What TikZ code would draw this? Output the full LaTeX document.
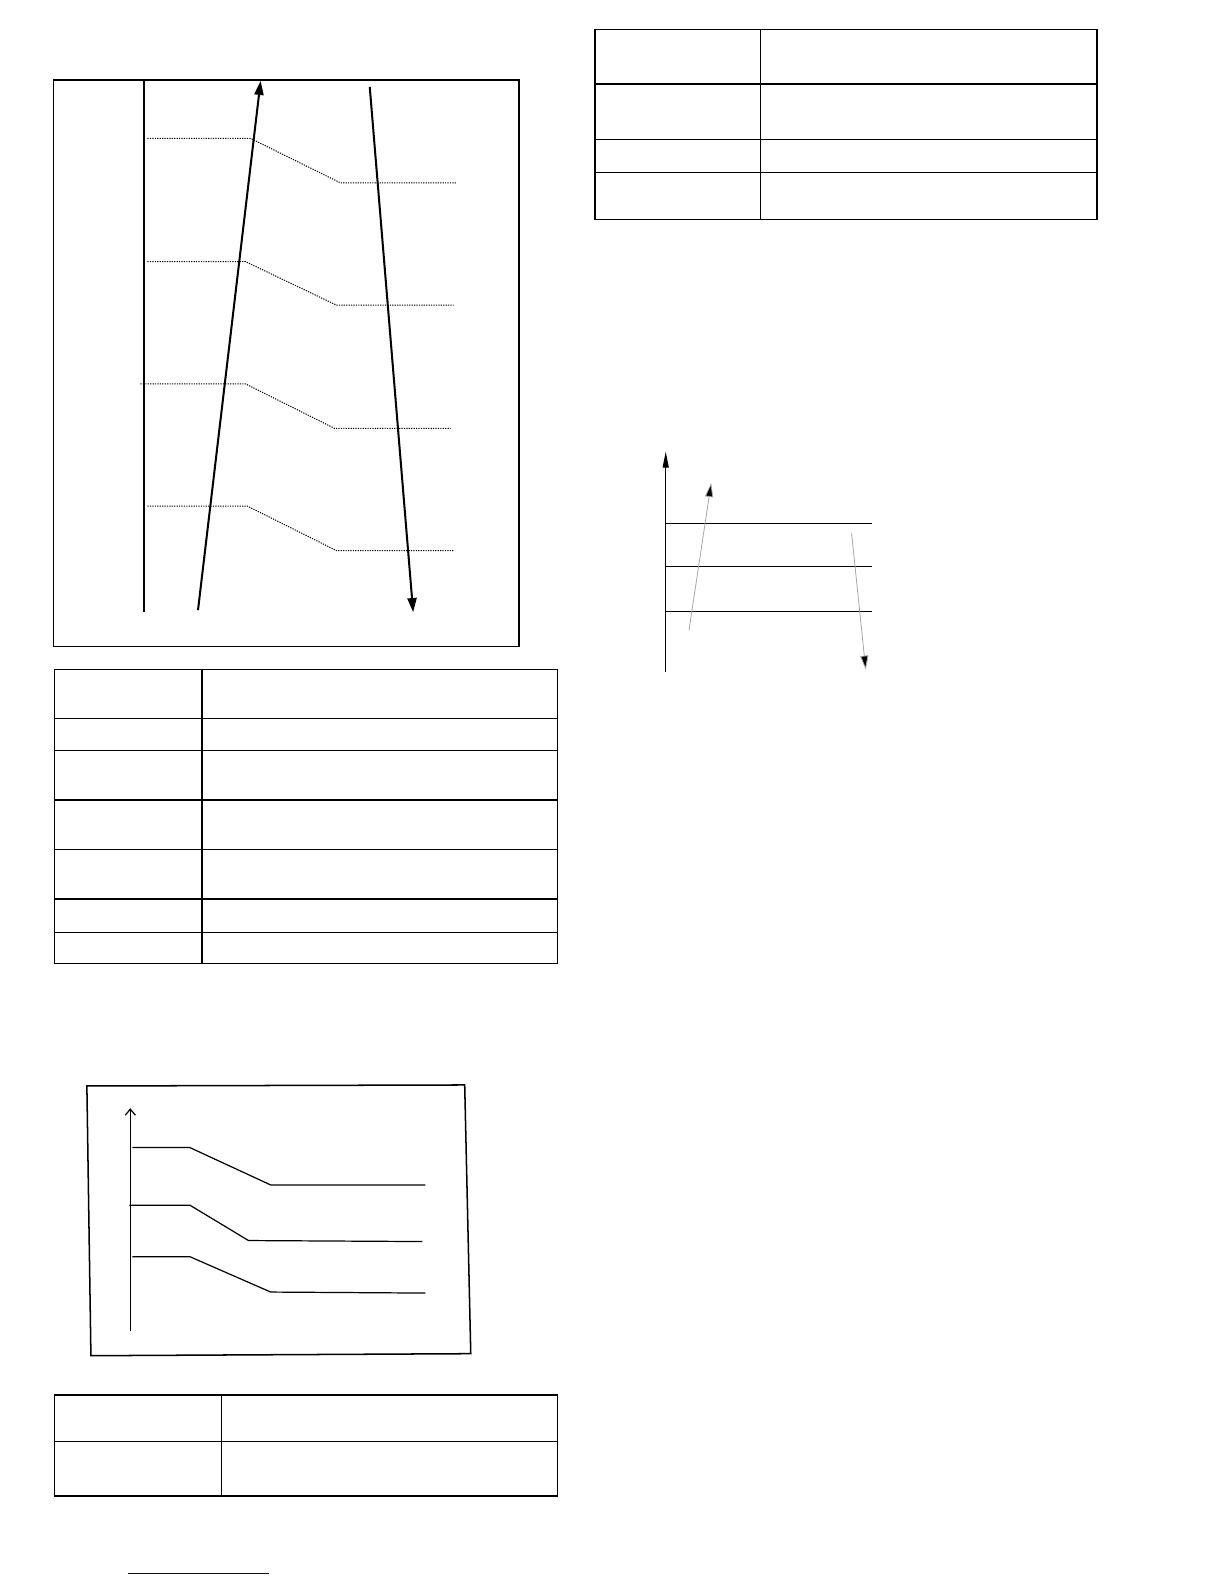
\documentclass[tikz,border=0pt]{standalone}
\usetikzlibrary{arrows.meta}
\begin{document}
\begin{tikzpicture}[x=1pt,y=-1pt,
  frame/.style={line width=1.5pt},
  grid/.style={line width=1.3pt},
  axis/.style={line width=2pt},
  dotline/.style={line width=1pt, dash pattern=on 1.2pt off 1.2pt},
  bigarrow/.style={line width=2pt,-{Triangle[length=14pt,width=9pt]}},
  thin/.style={line width=1.2pt},
  grayarrow/.style={line width=0.8pt,draw=gray!70,-{Triangle[length=14pt,width=8pt,fill=black]}}]
\useasboundingbox (0,0) rectangle (1212,1568);
% ---------- top-left diagram ----------
\draw[frame] (53,79) rectangle (514,640);
\coordinate (vtop) at (143,79);
\coordinate (vbot) at (143,606);
\draw[axis] (vtop) -- (vbot);
\coordinate (upS) at (196,604);
\coordinate (upE) at (258,80);
\coordinate (dnS) at (366,86);
\coordinate (dnE) at (409,606);
\draw[bigarrow] (upS) -- (upE);
\draw[bigarrow] (dnS) -- (dnE);
\draw[dotline] (146,137) -- (248,137) -- (337,181) -- (452,181);
\draw[dotline] (146,259) -- (243,259) -- (333,302) -- (449,302);
\draw[dotline] (139,380) -- (243,380) -- (331,424) -- (446,424);
\draw[dotline] (146,501) -- (245,501) -- (333,545) -- (449,545);
% ---------- table 1 ----------
\draw[grid] (54,663) rectangle (552,954);
\draw[grid] (200,663) -- (200,954);
\foreach \y in {711,743,792,841,890,923} \draw[grid] (54,\y) -- (552,\y);
% ---------- table 2 ----------
\draw[grid] (589,29) rectangle (1086,217);
\draw[grid] (753,29) -- (753,217);
\foreach \y in {83,138,171} \draw[grid] (589,\y) -- (1086,\y);
% ---------- right diagram ----------
\coordinate (ax0) at (659,665);
\coordinate (ax1) at (659,447);
\draw[thin,-{Triangle[length=16pt,width=6pt]}] (ax0) -- (ax1);
\foreach \y in {518,561,605} \draw[thin] (659,\y) -- (863,\y);
\coordinate (gu0) at (682,624);
\coordinate (gu1) at (704,478);
\coordinate (gd0) at (843,528);
\coordinate (gd1) at (857,663);
\draw[grayarrow] (gu0) -- (gu1);
\draw[grayarrow] (gd0) -- (gd1);
% ---------- bottom-left diagram ----------
\draw[line width=1.5pt] (86,1075) -- (460,1074) -- (466,1340) -- (90,1342) -- cycle;
\coordinate (bx0) at (129,1318);
\coordinate (bx1) at (129,1097);
\draw[line width=1.2pt,-{Straight Barb[length=6pt,width=10pt]}] (bx0) -- (bx1);
\draw[thin] (131,1136) -- (188,1136) -- (268,1173) -- (421,1173);
\draw[thin] (128,1193) -- (188,1193) -- (246,1228) -- (418,1229);
\draw[thin] (131,1244) -- (188,1244) -- (268,1279) -- (421,1280);
% ---------- table 3 ----------
\draw[grid] (54,1381) rectangle (552,1481);
\draw[grid] (219,1381) -- (219,1481);
\draw[grid] (54,1427) -- (552,1427);
% ---------- link underline ----------
\draw[line width=1pt, draw=blue!60!black] (127,1558) -- (266,1558);
\end{tikzpicture}
\end{document}
